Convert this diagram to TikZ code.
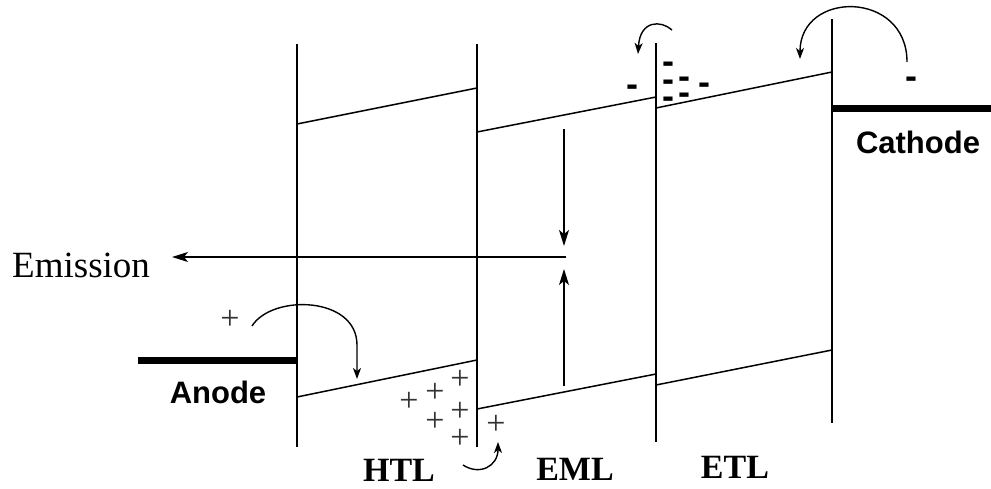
\documentclass[tikz,border=0pt]{standalone}
\usepackage{fontspec}
\setmainfont{Liberation Serif}
\newfontfamily\arialfont{Liberation Sans}
\usetikzlibrary{arrows.meta}
\tikzset{
  wall/.style={line width=1.5pt},
  level/.style={line width=1.5pt},
  electrode/.style={line width=7pt},
  bigarrow/.style={line width=1.4pt,-{Stealth[length=16pt,width=10pt,inset=4pt]}},
  curvearrow/.style={line width=1.4pt,-{Stealth[length=11pt,width=8pt,inset=3pt]}},
  layerlabel/.style={font=\fontsize{34}{40}\selectfont\bfseries, inner sep=0pt},
  electrodelabel/.style={font=\arialfont\fontsize{31}{36}\selectfont\bfseries, inner sep=0pt},
  holesign/.style={font=\fontsize{34}{40}\selectfont, text=black!80, inner sep=0pt, anchor=base},
  electronsign/.style={font=\arialfont\fontsize{36}{36}\selectfont\bfseries, inner sep=0pt, anchor=base},
}
\begin{document}
\begin{tikzpicture}[x=1pt,y=-1pt]
\useasboundingbox (0,0) rectangle (991,488);
% interfaces
\coordinate (w1t) at (297,44);  \coordinate (w1b) at (297,447);
\coordinate (w2t) at (477,44);  \coordinate (w2b) at (477,447);
\coordinate (w3t) at (656,43);  \coordinate (w3b) at (656,442);
\coordinate (w4t) at (832,19);  \coordinate (w4b) at (832,423);
\draw[wall] (w1t) -- (w1b);
\draw[wall] (w2t) -- (w2b);
\draw[wall] (w3t) -- (w3b);
\draw[wall] (w4t) -- (w4b);
% LUMO levels
\coordinate (htlLa) at (297,124); \coordinate (htlLb) at (477,88);
\coordinate (emlLa) at (477,132); \coordinate (emlLb) at (656,97);
\coordinate (etlLa) at (656,108); \coordinate (etlLb) at (832,72);
\draw[level] (htlLa) -- (htlLb);
\draw[level] (emlLa) -- (emlLb);
\draw[level] (etlLa) -- (etlLb);
% HOMO levels
\coordinate (htlHa) at (297,397); \coordinate (htlHb) at (477,360);
\coordinate (emlHa) at (477,409); \coordinate (emlHb) at (656,374);
\coordinate (etlHa) at (656,385); \coordinate (etlHb) at (832,350);
\draw[level] (htlHa) -- (htlHb);
\draw[level] (emlHa) -- (emlHb);
\draw[level] (etlHa) -- (etlHb);
% electrodes
\coordinate (anL) at (138,360); \coordinate (anR) at (297,360);
\coordinate (caL) at (832,108); \coordinate (caR) at (991,108);
\draw[electrode] (anL) -- (anR);
\draw[electrode] (caL) -- (caR);
\node[electrodelabel] (anode) at (218,392) {Anode};
\node[electrodelabel] (cathode) at (918,142) {Cathode};
% layer labels
\node[layerlabel] (htl) at (399,470) {HTL};
\node[layerlabel] (eml) at (575,469) {EML};
\node[layerlabel] (etl) at (735,467) {ETL};
% recombination and emission
\coordinate (eTop) at (564,129); \coordinate (eTopTip) at (564,246);
\coordinate (hBot) at (564,386); \coordinate (hBotTip) at (564,269);
\draw[bigarrow] (eTop) -- (eTopTip);
\draw[bigarrow] (hBot) -- (hBotTip);
\coordinate (emStart) at (566,257); \coordinate (emTip) at (172,257);
\draw[bigarrow] (emStart) -- (emTip);
\node[font=\fontsize{37}{42}\selectfont, inner sep=0pt, anchor=west] (emission) at (12,265) {Emission};
% hole injection
\node[holesign] (hA) at (230,329) {+};
\coordinate (aS) at (252,326); \coordinate (aE) at (357,379);
\draw[curvearrow] (aS) .. controls (272,294) and (357,296) .. (357,345) -- (aE);
\node[holesign] (h1) at (460,389) {+};
\node[holesign] (h2) at (435,402) {+};
\node[holesign] (h3) at (409,411) {+};
\node[holesign] (h4) at (460,421) {+};
\node[holesign] (h5) at (435,431) {+};
\node[holesign] (h6) at (460,448) {+};
\node[holesign] (h7) at (496,434) {+};
\coordinate (bS) at (463,465); \coordinate (bE) at (498,442);
\draw[curvearrow] (bS) .. controls (480,476) and (498,466) .. (bE);
% electron injection
\node[electronsign] (eC) at (911,88) {-};
\coordinate (cS) at (907,62); \coordinate (cE) at (800,59);
\draw[curvearrow] (cS) .. controls (907,-10) and (800,-10) .. (cE);
\node[electronsign] (e1) at (632,96) {-};
\node[electronsign] (e2) at (668,73) {-};
\node[electronsign] (e3) at (668,91) {-};
\node[electronsign] (e4) at (684,88) {-};
\node[electronsign] (e5) at (704,94) {-};
\node[electronsign] (e6) at (668,108) {-};
\node[electronsign] (e7) at (684,104) {-};
\coordinate (sS) at (672,30); \coordinate (sE) at (638,54);
\draw[curvearrow] (sS) .. controls (661,20) and (640,20) .. (sE);
\end{tikzpicture}
\end{document}
